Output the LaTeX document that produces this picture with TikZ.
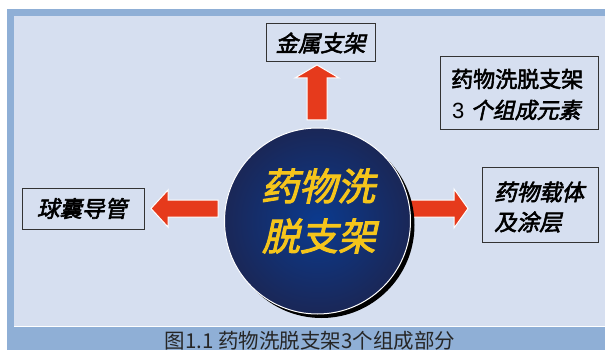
\documentclass[tikz,border=0pt]{standalone}
\usepackage{fontspec}
\newfontfamily\cjk{Noto Sans CJK SC}[AutoFakeSlant=0.22]
\newfontfamily\cjkh{Noto Sans CJK SC}[FakeBold=2.5,AutoFakeSlant=0.22]
\newfontfamily\arialf{Liberation Sans}
\definecolor{panel}{HTML}{D6DFF0}
\definecolor{frame}{HTML}{8FAFD6}
\definecolor{arrowred}{HTML}{E63A1C}
\definecolor{gold}{HTML}{F5C51B}
\definecolor{navyout}{HTML}{1A2757}
\definecolor{navyin}{HTML}{0B3A8E}
\tikzset{
  labelbox/.style={draw=black!80,line width=1pt,fill=panel},
  bigarrow/.style={fill=arrowred,draw=white,line width=1pt,line join=miter},
  ittext/.style={font=\cjkh\itshape\fontsize{22.5}{26}\selectfont,inner sep=0pt},
  uptext/.style={font=\cjkh\fontsize{22}{26}\selectfont,inner sep=0pt},
  centretext/.style={font=\cjkh\itshape\fontsize{38}{42}\selectfont,text=gold,inner sep=0pt}
}
\begin{document}
\begin{tikzpicture}[x=1pt,y=-1pt]
\useasboundingbox (0,0) rectangle (605,350);
\fill[white] (0,0) rectangle (605,350);
\fill[frame] (7,9) rectangle (605,350);
\fill[panel] (14,16) rectangle (605,326);
\draw[white,line width=1pt] (14,326.5) -- (605,326.5);
% caption
\node[font=\cjk\fontsize{20.5}{24}\selectfont,inner sep=0pt,text=black!85] (cap) at (310,341) {图1.1 药物洗脱支架3个组成部分};
% boxes
\draw[labelbox] (266,24) rectangle (375,62);
\node[ittext] (metal) at (320.5,43) {金属支架};
\draw[labelbox] (440,57) rectangle (598,130);
\node[uptext,anchor=west] (t1) at (451,79) {药物洗脱支架};
\node[anchor=west,inner sep=0pt] (t2) at (452,110) {{\arialf\fontsize{22}{26}\selectfont 3 }{\cjkh\itshape\fontsize{22}{26}\selectfont 个组成元素}};
\draw[labelbox] (22,188) rectangle (144,229);
\node[ittext] (balloon) at (82,208.5) {球囊导管};
\draw[labelbox] (482,167) rectangle (598,242);
\node[ittext,anchor=west] (c1) at (494,192) {药物载体};
\node[ittext,anchor=west] (c2) at (494,222) {及涂层};
% arrows
\draw[bigarrow] (307,120) -- (307,78) -- (295,78) -- (317,65) -- (339,78) -- (327,78) -- (327,120) -- cycle;
\draw[bigarrow] (218,200) -- (168,200) -- (168,190) -- (151,208.5) -- (168,227) -- (168,217) -- (218,217) -- cycle;
\draw[bigarrow] (410,200) -- (454,200) -- (454,189) -- (468,208.5) -- (454,228) -- (454,217) -- (410,217) -- cycle;
% circle
\fill[black] (321.5,225) circle (93);
\shade[inner color=navyin,outer color=navyout,draw=white,line width=1pt] (317.5,221) circle (93);
\node[centretext] (l1) at (318,186) {药物洗};
\node[centretext] (l2) at (319,236) {脱支架};
\end{tikzpicture}
\end{document}
